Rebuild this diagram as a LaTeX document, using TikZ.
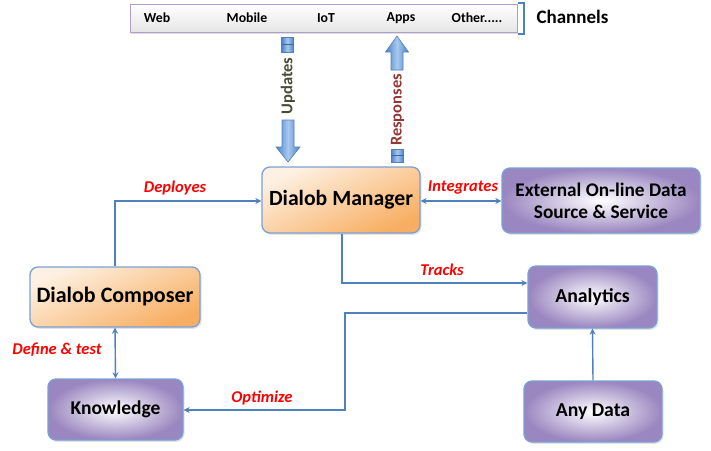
\documentclass[tikz,border=0pt]{standalone}
\usepackage{fontspec}
\setmainfont{Carlito}
\usetikzlibrary{arrows.meta,shadows}
\definecolor{lnblue}{HTML}{4F81BD}
\definecolor{bdblue}{HTML}{7BA0D4}
\definecolor{purp}{HTML}{9A86C0}
\definecolor{orng}{HTML}{F8AE62}
\definecolor{orngl}{HTML}{FEF1E3}
\definecolor{blkd}{HTML}{4A82C8}
\definecolor{blkl}{HTML}{A9C8EE}
\definecolor{updc}{HTML}{4A4A35}
\definecolor{respc}{HTML}{953735}
\begin{document}
\begin{tikzpicture}[x=1pt,y=-1pt,
  box/.style={rounded corners=8pt, draw=bdblue, line width=1.3pt, font=\bfseries, align=center, inner sep=0pt,
    drop shadow={opacity=0.22, shadow xshift=1.5pt, shadow yshift=-1.8pt}},
  obox/.style={box, top color=orngl, bottom color=orng, shading angle=25},
  pbox/.style={box, inner color=white, outer color=purp},
  conn/.style={draw=lnblue, line width=1.4pt},
  tip/.style={-{Stealth[length=6pt,width=6pt]}},
  lbl/.style={font=\bfseries\itshape\fontsize{16.5}{16.5}\selectfont, text=red},
  chan/.style={font=\bfseries\fontsize{13.8}{13.8}\selectfont},
  blk/.style={draw=lnblue, line width=0.6pt, left color=blkd, right color=blkd, middle color=blkl}
]
\useasboundingbox (0,0) rectangle (711,450);

% channels bar
\node[draw=purp!80, line width=1pt, top color=white, bottom color=black!10,
      minimum width=387pt, minimum height=28pt, inner sep=0pt,
      drop shadow={opacity=0.25, shadow xshift=1pt, shadow yshift=-2pt}] (bar) at (323.5,18) {};
\node[chan] (web) at (157,18) {Web};
\node[chan] (mob) at (247,18) {Mobile};
\node[chan] (iot) at (326,18) {IoT};
\node[chan] (apps) at (401,18) {Apps};
\node[chan] (oth) at (477,18) {Other.....};
\draw[lnblue, line width=1.4pt] (518,3) -- (524,3) -- (524,34) -- (518,34);
\node[font=\bfseries\fontsize{19}{19}\selectfont, anchor=west] (chl) at (533,17) {Channels};

% boxes
\node[obox, minimum width=158pt, minimum height=66pt, font=\bfseries\fontsize{21.7}{21.7}\selectfont] (mgr) at (341,200) {Dialob Manager};
\node[pbox, minimum width=198pt, minimum height=65pt, font=\bfseries\fontsize{19.3}{22}\selectfont] (ext) at (601,200.5) {External On-line Data\\Source \& Service};
\node[obox, minimum width=170pt, minimum height=60pt, font=\bfseries\fontsize{22}{22}\selectfont] (comp) at (115,297) {Dialob Composer};
\node[pbox, minimum width=135pt, minimum height=61pt, font=\bfseries\fontsize{19.5}{19.5}\selectfont] (know) at (115.5,409.5) {Knowledge};
\node[pbox, minimum width=129pt, minimum height=62pt, font=\bfseries\fontsize{19.8}{19.8}\selectfont] (ana) at (592.5,297) {Analytics};
\node[pbox, minimum width=138pt, minimum height=61pt, font=\bfseries\fontsize{19.7}{19.7}\selectfont] (any) at (593,411.5) {Any Data};

% connectors
\coordinate (dtop) at (115,201);
\draw[conn, tip] (comp.north -| dtop) -- (dtop) -- (mgr.west |- dtop);
\node[lbl] (ldep) at (175,188) {Deployes};

\draw[conn, {Stealth[length=6pt,width=6pt]}-{Stealth[length=6pt,width=6pt]}] (mgr.east |- 0,201) -- (ext.west |- 0,201);
\node[lbl] (lint) at (463,188) {Integrates};

\coordinate (tk) at (342,283);
\draw[conn, tip] (mgr.south -| tk) -- (tk) -- (ana.west |- tk);
\node[lbl] (ltr) at (442,270) {Tracks};

\coordinate (op1) at (345,313);
\coordinate (op2) at (345,410);
\draw[conn, tip] (ana.west |- op1) -- (op1) -- (op2) -- (know.east |- op2);
\node[lbl] (lop) at (262,398) {Optimize};

\draw[conn, {Stealth[length=6pt,width=6pt]}-{Stealth[length=6pt,width=6pt]}] (comp.south) -- (know.north);
\node[lbl] (ldef) at (57,350) {Define \& test};

\draw[conn, tip] (any.north) -- (ana.south);

% Updates block arrow
\shade[blk] (282,120) -- (294,120) -- (294,147) -- (300,147) -- (288,162) -- (276,147) -- (282,147) -- cycle;
\shade[blk] (281.5,37.5) rectangle (293.5,52);
\draw[lnblue!80!black, line width=0.5pt] (281.5,44.5) -- (293.5,44.5);
\node[rotate=90, font=\bfseries\fontsize{16.5}{16.5}\selectfont, text=updc] (upd) at (288,86) {Updates};

% Responses block arrow
\shade[blk] (391,70) -- (403,70) -- (403,52) -- (408.5,52) -- (397,36) -- (385.5,52) -- (391,52) -- cycle;
\shade[blk] (391,149) rectangle (403.5,162);
\draw[lnblue!80!black, line width=0.5pt] (391,155.5) -- (403.5,155.5);
\node[rotate=90, font=\bfseries\fontsize{16.5}{16.5}\selectfont, text=respc] (resp) at (397.5,110) {Responses};
\end{tikzpicture}
\end{document}
